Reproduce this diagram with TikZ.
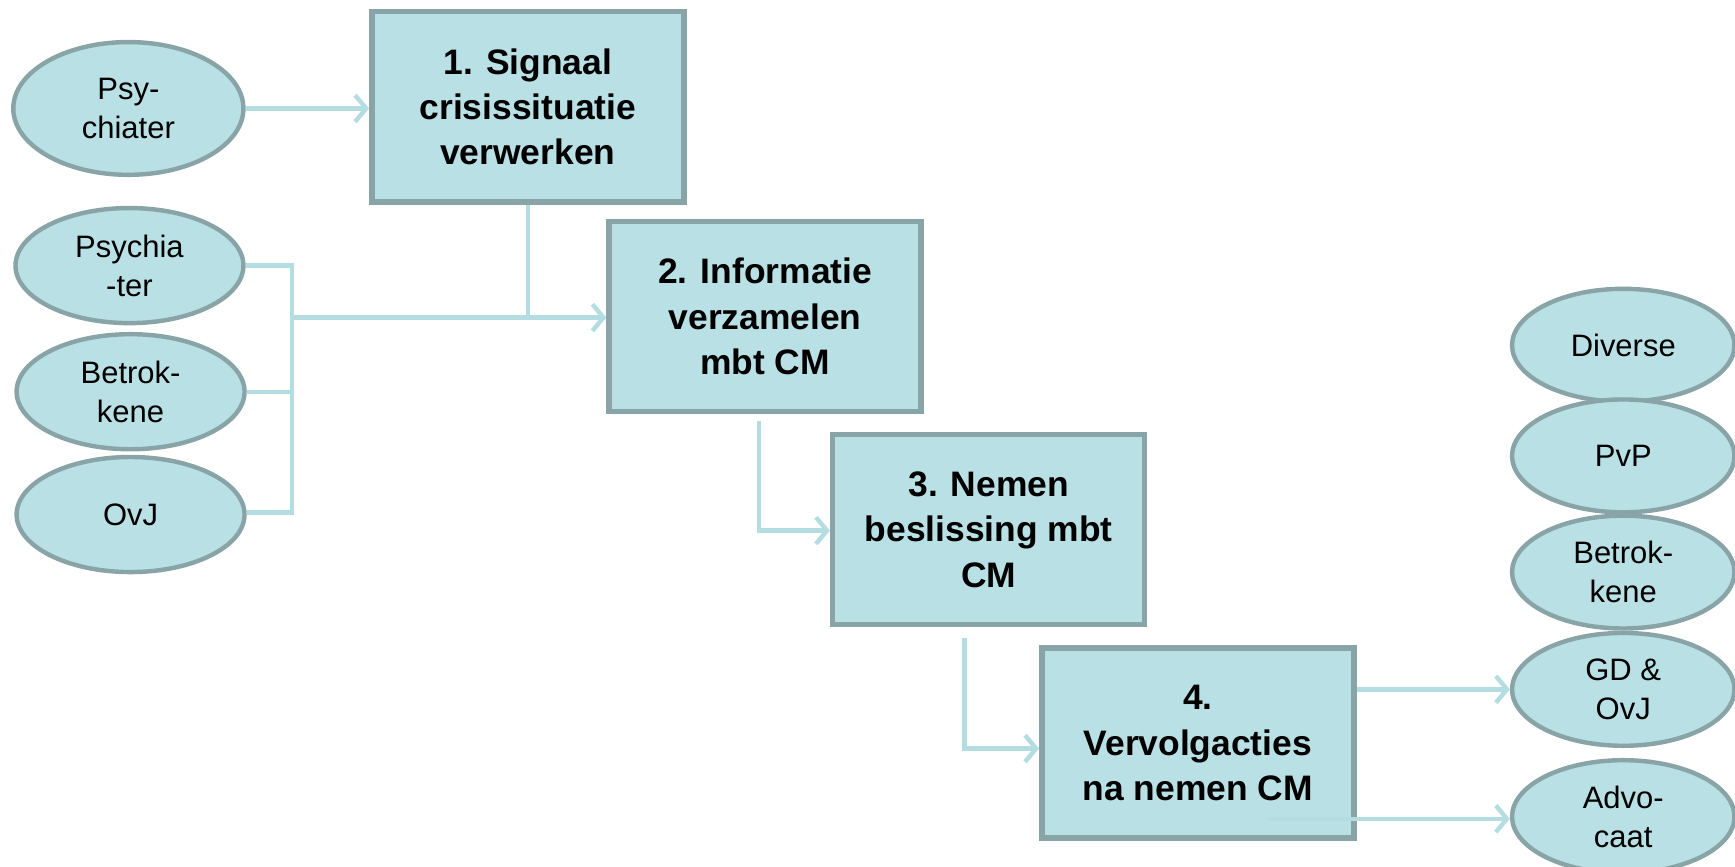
\documentclass[tikz,border=0pt]{standalone}
\usepackage{fontspec}
\setmainfont{Liberation Sans}
\usetikzlibrary{shapes.geometric,arrows.meta}
\definecolor{fillc}{RGB}{185,224,228}
\definecolor{edgec}{RGB}{137,164,167}
\definecolor{linec}{RGB}{180,221,225}
\begin{document}
\begin{tikzpicture}[x=0.5pt,y=-0.5pt,
  stepbox/.style={draw=edgec, fill=fillc, line width=2.5pt, minimum width=141pt, minimum height=86pt,
    align=center, font=\fontsize{16}{20.5}\selectfont\bfseries, inner sep=0pt},
  actor/.style={ellipse, draw=edgec, fill=fillc, line width=2pt, minimum width=103pt, minimum height=52pt,
    align=center, font=\fontsize{14}{17.7}\selectfont, inner sep=0pt},
  ractor/.style={actor, minimum width=100.5pt, minimum height=51pt},
  conn/.style={draw=linec, line width=2pt},
  arr/.style={conn, -{Straight Barb[length=5pt,width=12pt]}}]
\useasboundingbox (0,0) rectangle (1568,783);

% process boxes
\node[stepbox] (b1) at (477,96.5) {1. Signaal\\crisissituatie\\verwerken};
\node[stepbox] (b2) at (691.5,286) {2. Informatie\\verzamelen\\mbt CM};
\node[stepbox] (b3) at (893.5,478.5) {3. Nemen\\beslissing mbt\\CM};
\node[stepbox] (b4) at (1082.5,671.5) {4.\\Vervolgacties\\na nemen CM};

% left actors
\node[actor, minimum width=104pt, minimum height=60pt] (psy1) at (116,98) {Psy-\\chiater};
\node[actor] (psy2) at (117,240) {Psychia\\-ter};
\node[actor] (betr1) at (118,354) {Betrok-\\kene};
\node[actor] (ovj) at (118,465) {OvJ};

% right actors
\node[ractor] (div) at (1467,312) {Diverse};
\node[ractor] (pvp) at (1467,412) {PvP};
\node[ractor] (betr2) at (1467,517) {Betrok-\\kene};
\node[ractor] (gd) at (1467,623) {GD \&\\OvJ};
\node[ractor] (adv) at (1467,738) {Advo-\\caat};

% connectors
\coordinate (bus) at (264,287);
\coordinate (bustop) at (264,240);
\coordinate (busbot) at (264,463);
\draw[arr] (psy1.east) -- (psy1.east -| b1.west);
\draw[conn] (psy2.east |- bustop) -- (bustop) -- (busbot) -- (ovj.east |- busbot);
\draw[conn] (betr1.east) -- (betr1.east -| bus);
\draw[conn] (b1.south) -- (b1.south |- bus);
\draw[arr] (bus) -- (bus -| b2.west);
\draw[arr] ([xshift=-2.75pt,yshift=-3pt]b2.south) |- ([yshift=-0.5pt]b3.west);
\draw[arr] ([xshift=-11pt,yshift=-5pt]b3.south) |- ([yshift=-2.5pt]b4.west);
\draw[arr] (gd.west -| b4.east) -- (gd.west);
\coordinate (advstart) at (1146,740);
\draw[arr] (advstart) -- (advstart -| adv.west);
\end{tikzpicture}
\end{document}
